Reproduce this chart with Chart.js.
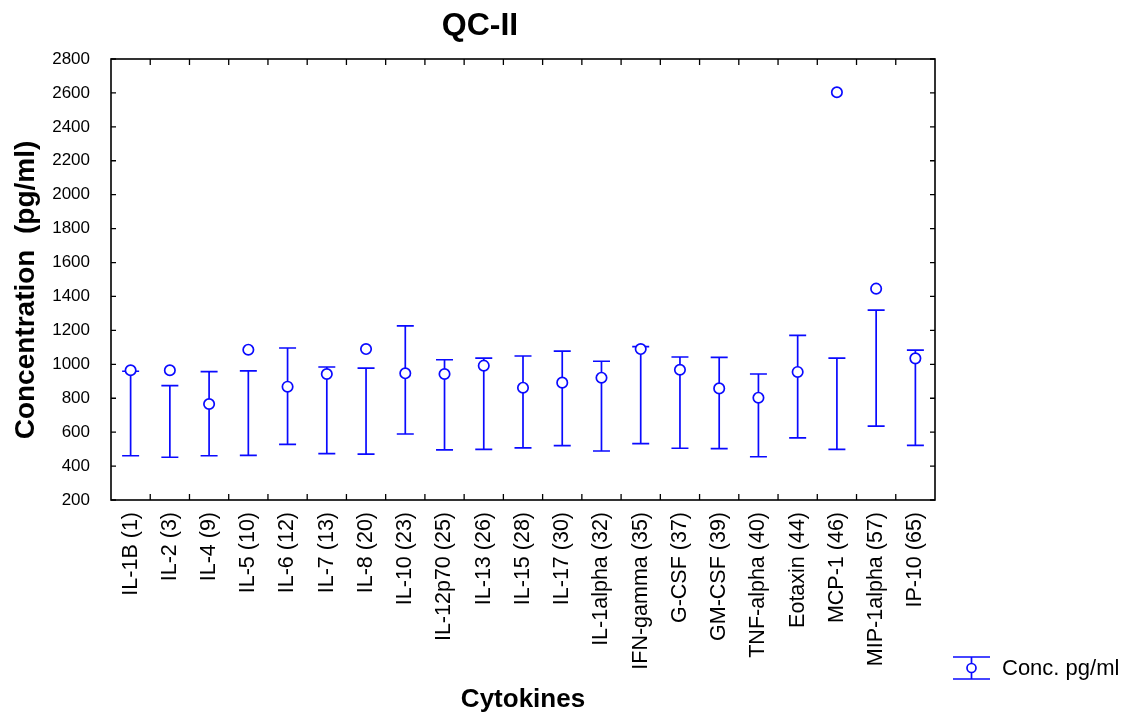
<!DOCTYPE html>
<html>
<head>
<meta charset="utf-8">
<script src="https://cdn.jsdelivr.net/npm/chart.js@4"></script>
<style>
html,body{margin:0;padding:0;background:#fff;}
#wrap{width:1137px;height:718px;position:relative;}
</style>
</head>
<body>
<div id="wrap"><canvas id="c" width="1137" height="718"></canvas></div>
<script>
const categories = ["IL-1B (1)","IL-2 (3)","IL-4 (9)","IL-5 (10)","IL-6 (12)","IL-7 (13)","IL-8 (20)","IL-10 (23)","IL-12p70 (25)","IL-13 (26)","IL-15 (28)","IL-17 (30)","IL-1alpha (32)","IFN-gamma (35)","G-CSF (37)","GM-CSF (39)","TNF-alpha (40)","Eotaxin (44)","MCP-1 (46)","MIP-1alpha (57)","IP-10 (65)"];
const concValues = [965,965,766,1086,868,943,1090,947,943,992,862,892,921,1090,968,858,803,955,2604,1446,1035];
const upperValues = [959,874,957,961,1096,984,978,1226,1027,1037,1049,1078,1018,1104,1043,1041,943,1171,1037,1320,1084];
const lowerValues = [461,452,461,463,528,473,471,589,495,499,507,520,489,532,505,503,455,566,499,636,522];
const yTicks = [200,400,600,800,1000,1200,1400,1600,1800,2000,2200,2400,2600,2800];

const BLUE = "#0a0aff";
const FONT = "'Liberation Sans', Arial, sans-serif";

const errorBars = {
  id: 'errorBars',
  beforeDatasetsDraw(chart) {
    const ctx = chart.ctx, x = chart.scales.x, y = chart.scales.y;
    ctx.save();
    ctx.strokeStyle = BLUE;
    ctx.lineWidth = 1.7;
    categories.forEach((c, i) => {
      const px = x.getPixelForValue(i);
      const pu = y.getPixelForValue(upperValues[i]);
      const pl = y.getPixelForValue(lowerValues[i]);
      ctx.beginPath();
      ctx.moveTo(px, pu); ctx.lineTo(px, pl);
      ctx.moveTo(px - 8.5, pu); ctx.lineTo(px + 8.5, pu);
      ctx.moveTo(px - 8.5, pl); ctx.lineTo(px + 8.5, pl);
      ctx.stroke();
    });
    ctx.restore();
  }
};

const frameAndDecor = {
  id: 'frameAndDecor',
  afterDraw(chart) {
    const ctx = chart.ctx, a = chart.chartArea, x = chart.scales.x, y = chart.scales.y;
    ctx.save();
    ctx.strokeStyle = '#000';
    ctx.lineWidth = 1.6;
    ctx.strokeRect(a.left, a.top, a.right - a.left, a.bottom - a.top);
    ctx.lineWidth = 1.3;
    ctx.beginPath();
    yTicks.forEach(v => {
      const py = y.getPixelForValue(v);
      ctx.moveTo(a.left, py); ctx.lineTo(a.left + 5, py);
      ctx.moveTo(a.right, py); ctx.lineTo(a.right - 5, py);
    });
    for (let i = 0; i < categories.length - 1; i++) {
      const px = (x.getPixelForValue(i) + x.getPixelForValue(i + 1)) / 2;
      ctx.moveTo(px, a.bottom); ctx.lineTo(px, a.bottom - 6);
      ctx.moveTo(px, a.top); ctx.lineTo(px, a.top + 6);
    }
    ctx.stroke();

    // title
    ctx.fillStyle = '#000';
    ctx.font = "bold 32px " + FONT;
    ctx.textAlign = 'center';
    ctx.textBaseline = 'middle';
    ctx.fillText('QC-II', 480, 26);

    // y-axis title
    ctx.save();
    ctx.translate(26, 290);
    ctx.rotate(-Math.PI / 2);
    ctx.font = "bold 28px " + FONT;
    ctx.fillText('Concentration  (pg/ml)', 0, 0);
    ctx.restore();

    // legend
    const lx1 = 953, lx2 = 990, lcx = 971.5, lcy = 668;
    ctx.strokeStyle = BLUE;
    ctx.lineWidth = 1.7;
    ctx.beginPath();
    ctx.moveTo(lx1, 657); ctx.lineTo(lx2, 657);
    ctx.moveTo(lx1, 679); ctx.lineTo(lx2, 679);
    ctx.moveTo(lcx, 657); ctx.lineTo(lcx, 679);
    ctx.stroke();
    ctx.beginPath();
    ctx.arc(lcx, lcy, 4.5, 0, Math.PI * 2);
    ctx.fillStyle = '#fff';
    ctx.fill();
    ctx.stroke();
    ctx.fillStyle = '#000';
    ctx.font = "22px " + FONT;
    ctx.textAlign = 'left';
    ctx.textBaseline = 'middle';
    ctx.fillText('Conc. pg/ml', 1002, 669);
    ctx.restore();
  }
};

new Chart(document.getElementById('c'), {
  type: 'line',
  data: {
    labels: categories,
    datasets: [{
      label: 'Conc. pg/ml',
      data: concValues,
      showLine: false,
      pointStyle: 'circle',
      pointRadius: 5.2,
      pointHoverRadius: 5.2,
      pointBorderWidth: 1.7,
      pointBorderColor: BLUE,
      pointBackgroundColor: '#fff'
    }]
  },
  options: {
    responsive: false,
    animation: false,
    events: [],
    layout: { padding: { left: 0, top: 59, right: 202, bottom: 0 } },
    plugins: { legend: { display: false }, tooltip: { enabled: false }, title: { display: false } },
    scales: {
      x: {
        type: 'category',
        offset: true,
        grid: { display: false, drawTicks: false },
        border: { display: false },
        ticks: {
          autoSkip: false, maxRotation: 90, minRotation: 90, padding: 12,
          color: '#000', font: { family: FONT, size: 21.5 }
        },
        title: {
          display: true, text: 'Cytokines', color: '#000',
          font: { family: FONT, size: 26, weight: 'bold' },
          padding: { top: 0, bottom: 3 }
        },
        afterFit(scale) { scale.height = 218; }
      },
      y: {
        min: 200, max: 2800,
        grid: { display: false, drawTicks: false },
        border: { display: false },
        afterBuildTicks(scale) { scale.ticks = yTicks.map(v => ({ value: v })); },
        ticks: {
          padding: 21, color: '#000',
          font: { family: FONT, size: 17 },
          callback: v => String(v)
        },
        title: { display: false },
        afterFit(scale) { scale.width = 111; }
      }
    }
  },
  plugins: [errorBars, frameAndDecor]
});
</script>
</body>
</html>
